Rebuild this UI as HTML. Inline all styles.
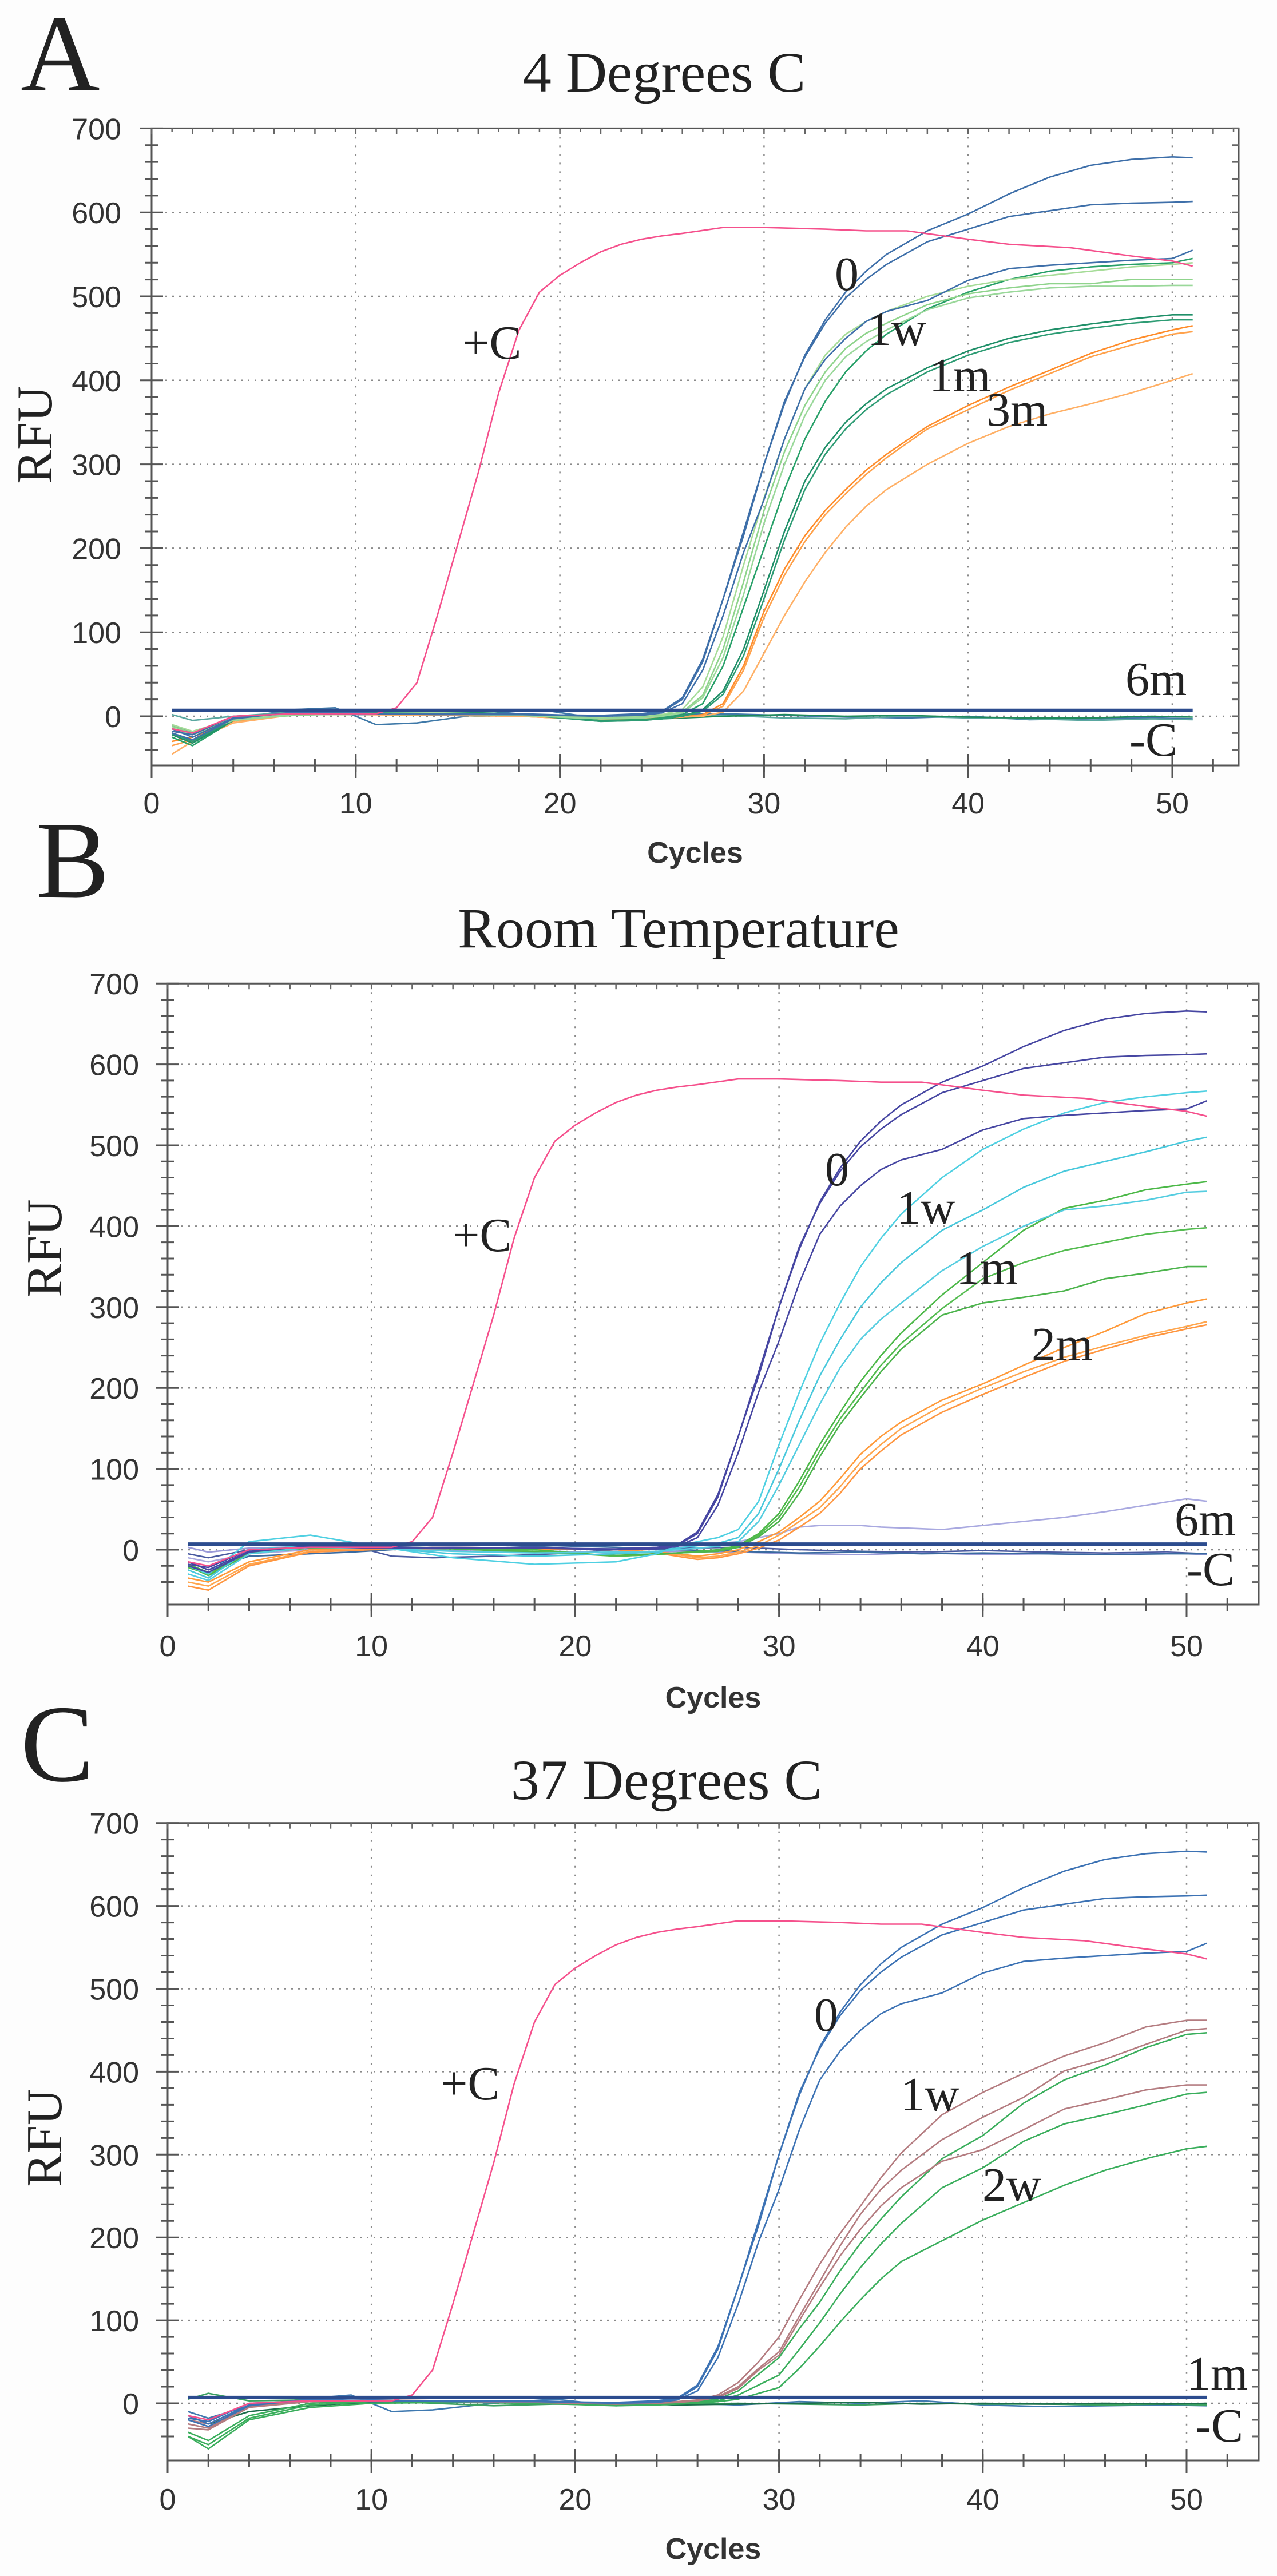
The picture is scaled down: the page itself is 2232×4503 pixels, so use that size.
<!DOCTYPE html>
<html><head><meta charset="utf-8"><title>qPCR stability curves</title>
<style>
html,body{margin:0;padding:0;background:#fdfdfd;}
svg{display:block;}
.serif{font-family:"Liberation Serif","Times New Roman",serif;fill:#222;}
.sans{font-family:"Liberation Sans",Arial,sans-serif;fill:#333;}
</style></head>
<body>
<svg id="fig" xmlns="http://www.w3.org/2000/svg" width="2232" height="4503" viewBox="0 0 2232 4503">
<rect x="0" y="0" width="2232" height="4503" fill="#fdfdfd"/>
</svg>
<script>
// ---------- shared data ----------
const xTicks = [0, 10, 20, 30, 40, 50];
const yTicks = [0, 100, 200, 300, 400, 500, 600, 700];
const cyc = [1,2,4,7,10,14,18,22,24,25,26,27,28,29,30,31,32,33,34,35,36,38,40,42,44,46,48,50,51];
const cycPos = [1,2,4,7,10,11,12,13,14,15,16,17,18,19,20,21,22,23,24,25,26,28,30,33,35,37,40,42,45,48,50,51];
const cycNoise = [1,2,4,7,9,11,13,16,19,22,25,28,31,34,37,40,43,46,49,51];
const posCtrl = [-15,-20,0,3,3,3,10,40,120,205,290,385,460,505,525,540,553,562,568,572,575,582,582,580,578,578,568,562,558,548,542,536];
const zeroA = [-20,-28,-3,5,3,2,3,0,2,5,20,65,140,215,300,372,430,472,505,530,550,578,598,622,642,656,663,666,665];
const zeroB = [-15,-25,-2,4,2,3,2,1,3,6,22,68,140,220,300,375,428,468,498,520,538,565,580,595,602,609,611,612,613];
const zeroC = [-18,-22,0,3,4,2,2,0,1,4,15,55,120,195,258,330,390,425,450,470,482,495,519,533,537,540,543,545,555];
const sixMonthLine = [7, 7];
// ---------- panel A (4 C) ----------
const a1w1 = [-10,-18,-3,2,3,4,2,-2,0,2,8,35,95,180,260,330,390,430,455,470,482,500,512,520,525,530,535,538,540];
const a1w2 = [-12,-20,-4,1,3,3,1,-3,-1,1,5,25,80,160,245,315,370,410,438,456,468,490,503,510,515,515,520,520,520];
const a1w3 = [-14,-22,-5,2,2,3,1,-3,-2,0,4,22,70,145,230,300,358,400,428,446,460,484,498,505,510,512,512,513,513];
const a1m1 = [-25,-35,-5,3,4,4,2,-5,-4,-2,2,15,60,130,200,270,330,375,410,435,455,485,505,520,530,535,538,540,545];
const a1m2 = [-22,-32,-5,4,3,5,3,-6,-5,-3,0,8,30,80,150,220,280,320,350,372,390,415,435,450,460,467,473,478,478];
const a1m3 = [-20,-30,-4,3,2,4,2,-6,-5,-3,0,6,26,72,140,210,270,312,342,365,383,410,430,445,455,462,468,472,472];
const a3m1 = [-30,-25,-5,2,2,2,0,-4,-3,-2,-1,2,15,60,125,175,215,245,270,293,312,345,370,392,412,432,448,460,465];
const a3m2 = [-35,-28,-6,2,2,2,0,-4,-3,-2,-1,1,12,55,118,168,208,240,265,288,308,342,365,388,408,428,442,455,458];
const a3m3 = [-45,-30,-8,2,2,1,0,-4,-3,-2,-1,0,5,30,75,120,160,195,225,250,270,300,325,345,360,372,385,400,408];
const aNeg1 = [-10,-20,-3,8,10,-10,-8,2,8,-3,2,3,1,-1,-2,0,-4,-3,-2,-3];
const aNeg2 = [2,-5,0,5,3,5,3,0,2,-4,0,1,-2,-3,0,-2,-3,-5,-3,-4];
const aNeg3 = [-20,-30,-5,3,4,3,5,4,0,-5,-3,0,2,0,1,-1,-2,-2,0,-1];
// ---------- panel B (room temperature) ----------
const b1w1 = [-20,-30,10,18,5,-10,-18,-15,-5,5,10,15,25,60,130,195,255,305,350,385,415,460,495,520,540,553,560,565,567];
const b1w2 = [-25,-35,0,5,3,-5,-8,-5,-3,2,5,8,15,45,100,160,215,260,300,330,355,395,420,448,468,480,492,505,510];
const b1w3 = [-30,-38,-5,3,2,-2,-4,-3,-2,0,2,4,10,35,80,130,180,225,260,285,305,345,375,400,420,425,432,442,443];
const b1m1 = [-20,-32,-5,3,4,2,0,-8,-6,-4,-2,0,5,20,45,85,130,170,208,240,268,315,355,395,422,432,445,452,455];
const b1m2 = [-22,-30,-4,2,3,2,-2,-8,-6,-4,-3,-1,4,18,40,78,122,162,195,228,255,298,335,355,370,380,390,396,398];
const b1m3 = [-18,-28,-3,2,3,1,-3,-7,-5,-4,-3,-2,3,16,35,70,115,155,188,220,248,290,305,312,320,335,342,350,350];
const b2m1 = [-35,-40,-15,0,2,3,2,0,-3,-5,-8,-5,0,10,22,40,60,88,118,140,158,185,205,228,250,270,292,305,310];
const b2m2 = [-40,-45,-18,-2,1,2,1,0,-4,-6,-10,-8,-3,5,18,35,52,78,108,130,150,178,200,220,238,252,265,276,282];
const b2m3 = [-45,-50,-20,-3,0,2,1,0,-4,-8,-12,-10,-5,2,12,28,45,70,100,122,142,170,192,213,233,248,262,273,278];
const b6m = [-10,-15,-5,0,2,3,2,0,2,4,6,8,10,15,20,28,30,30,30,28,27,25,30,35,40,47,55,63,60];
const bNeg1 = [-5,-10,0,5,5,-8,-10,-8,-5,0,2,3,0,-2,-3,-1,-3,-4,-3,-5];
const bNeg2 = [3,-3,2,4,6,2,0,-3,-2,-4,-2,-3,-5,-6,-4,-6,-5,-6,-4,-6];
const bNeg3 = [-15,-25,-8,-5,-3,0,3,2,5,3,0,-2,-4,-3,-5,-4,-5,-6,-5,-5];
// ---------- panel C (37 C) ----------
const c1w1 = [-20,-25,-3,3,4,3,2,0,1,2,4,10,25,50,80,125,168,205,238,272,302,348,375,398,419,435,454,462,462];
const c1w2 = [-25,-30,-4,2,3,3,1,-1,0,1,3,8,20,42,62,105,147,190,228,258,281,318,345,369,401,415,433,450,452];
const c1w3 = [-30,-32,-5,2,3,2,1,-1,0,1,3,7,18,40,58,100,140,178,210,238,260,292,306,330,355,366,378,384,384];
const c2w1 = [-35,-45,-15,0,3,2,1,-2,-1,0,2,5,15,35,55,90,122,160,193,222,249,295,323,362,390,408,429,445,447];
const c2w2 = [-40,-50,-18,-2,2,2,1,-2,-1,0,1,3,10,22,34,65,97,132,164,192,217,260,284,316,337,348,360,373,375];
const c2w3 = [-40,-55,-20,-5,0,1,0,-3,-2,-1,0,2,5,12,19,42,69,98,125,150,171,196,221,242,263,281,295,307,310];
const cNeg1 = [-10,-18,-3,6,10,-10,-8,0,5,-3,0,-2,2,0,3,-2,-4,-3,-2,-3];
const cNeg2 = [5,12,3,4,3,2,0,-3,-1,-2,-1,0,-1,-2,0,-1,-1,-2,-1,-2];
const cNeg3 = [-15,-25,-10,-3,0,2,3,1,2,0,-2,-1,0,1,-1,0,-1,0,-1,0];

// ---------- layout (not data) ----------
const panels = [
  {id:'a', x0:265, cw:35.68, y0:1252, py:1.468, right:2165, bottom:1338, ylabX:212,
   letter:{t:'A',x:36,y:158}, title:{t:'4 Degrees C',x:1161,y:160}, cycY:1508, rfuY:760, rfuX:90, xlabY:1422,
   series:[
    {n:'neg-ctrl-1',d:aNeg1,c:cycNoise,col:'#3f79a8'},{n:'neg-ctrl-2',d:aNeg2,c:cycNoise,col:'#5aa7a0'},{n:'neg-ctrl-3',d:aNeg3,c:cycNoise,col:'#1f8a5a'},
    {n:'3m-rep-1',d:a3m1,c:cyc,col:'#ff8c2a'},{n:'3m-rep-2',d:a3m2,c:cyc,col:'#ffa24c'},{n:'3m-rep-3',d:a3m3,c:cyc,col:'#ffb066'},
    {n:'1m-rep-1',d:a1m1,c:cyc,col:'#27a068'},{n:'1m-rep-2',d:a1m2,c:cyc,col:'#1f8f68'},{n:'1m-rep-3',d:a1m3,c:cyc,col:'#2e9c74'},
    {n:'1w-rep-1',d:a1w1,c:cyc,col:'#a6dc98'},{n:'1w-rep-2',d:a1w2,c:cyc,col:'#8fd48c'},{n:'1w-rep-3',d:a1w3,c:cyc,col:'#9ad89a'},
    {n:'0-rep-1',d:zeroA,c:cyc,col:'#3e6fa9'},{n:'0-rep-2',d:zeroB,c:cyc,col:'#3e6fa9'},{n:'0-rep-3',d:zeroC,c:cyc,col:'#3e6fa9'},
    {n:'pos-ctrl',d:posCtrl,c:cycPos,col:'#f5508c'}],
   labels:[['0',1459,507],['1w',1516,603],['1m',1624,684],['3m',1724,744],['+C',808,627],['6m',1967,1215],['-C',1974,1321]]},
  {id:'b', x0:293, cw:35.62, y0:2709, py:1.414, right:2200, bottom:2805, ylabX:243,
   letter:{t:'B',x:63,y:1568}, title:{t:'Room Temperature',x:1186,y:1656}, cycY:2985, rfuY:2182, rfuX:107, xlabY:2895,
   series:[
    {n:'neg-ctrl-1',d:bNeg1,c:cycNoise,col:'#4a5aa0'},{n:'neg-ctrl-2',d:bNeg2,c:cycNoise,col:'#9a9ad8'},{n:'neg-ctrl-3',d:bNeg3,c:cycNoise,col:'#3a6aa0'},
    {n:'6m-rep',d:b6m,c:cyc,col:'#a9a9e0'},
    {n:'2m-rep-1',d:b2m1,c:cyc,col:'#ff9a3a'},{n:'2m-rep-2',d:b2m2,c:cyc,col:'#ffa64e'},{n:'2m-rep-3',d:b2m3,c:cyc,col:'#ff9640'},
    {n:'1m-rep-1',d:b1m1,c:cyc,col:'#4cb848'},{n:'1m-rep-2',d:b1m2,c:cyc,col:'#54bc50'},{n:'1m-rep-3',d:b1m3,c:cyc,col:'#4cb44c'},
    {n:'1w-rep-1',d:b1w1,c:cyc,col:'#4fd0e2'},{n:'1w-rep-2',d:b1w2,c:cyc,col:'#48c8dc'},{n:'1w-rep-3',d:b1w3,c:cyc,col:'#55cde0'},
    {n:'0-rep-1',d:zeroA,c:cyc,col:'#4646a2'},{n:'0-rep-2',d:zeroB,c:cyc,col:'#4646a2'},{n:'0-rep-3',d:zeroC,c:cyc,col:'#4646a2'},
    {n:'pos-ctrl',d:posCtrl,c:cycPos,col:'#f5508c'}],
   labels:[['0',1442,2072],['1w',1567,2139],['1m',1671,2244],['2m',1803,2378],['+C',791,2187],['6m',2053,2684],['-C',2074,2771]]},
  {id:'c', x0:293, cw:35.62, y0:4201, py:1.449, right:2200, bottom:4301, ylabX:243,
   letter:{t:'C',x:36,y:3113}, title:{t:'37 Degrees C',x:1165,y:3145}, cycY:4473, rfuY:3737, rfuX:107, xlabY:4387,
   series:[
    {n:'neg-ctrl-1',d:cNeg1,c:cycNoise,col:'#3f79b0'},{n:'neg-ctrl-2',d:cNeg2,c:cycNoise,col:'#3aa060'},{n:'neg-ctrl-3',d:cNeg3,c:cycNoise,col:'#1c6e4a'},
    {n:'2w-rep-1',d:c2w1,c:cyc,col:'#3aae5c'},{n:'2w-rep-2',d:c2w2,c:cyc,col:'#3aae5c'},{n:'2w-rep-3',d:c2w3,c:cyc,col:'#3aae5c'},
    {n:'1w-rep-1',d:c1w1,c:cyc,col:'#b47c80'},{n:'1w-rep-2',d:c1w2,c:cyc,col:'#b47c80'},{n:'1w-rep-3',d:c1w3,c:cyc,col:'#b47c80'},
    {n:'0-rep-1',d:zeroA,c:cyc,col:'#3c72b4'},{n:'0-rep-2',d:zeroB,c:cyc,col:'#3c72b4'},{n:'0-rep-3',d:zeroC,c:cyc,col:'#3c72b4'},
    {n:'pos-ctrl',d:posCtrl,c:cycPos,col:'#f5508c'}],
   labels:[['0',1423,3550],['1w',1574,3689],['2w',1717,3847],['+C',770,3670],['1m',2074,4177],['-C',2089,4268]]}
];

const NS = 'http://www.w3.org/2000/svg';
const svg = document.getElementById('fig');
function mk(tag, attrs, parent){
  const e = document.createElementNS(NS, tag);
  for (const k in attrs) e.setAttribute(k, attrs[k]);
  parent.appendChild(e);
  return e;
}

panels.forEach(p => {
  const X = c => p.x0 + c * p.cw;
  const Y = v => p.y0 - v * p.py;
  const top = Y(700);
  const g = mk('g', {}, svg);
  
  

  // plot background
  const bg = mk('rect', {x:p.x0, y:top, width:p.right-p.x0, height:p.bottom-top, fill:'#ffffff'}, g);
  
  

  // grid
  yTicks.forEach(v => {
    if (v === 700) return;
    const l = mk('line', {x1:p.x0, x2:p.right, y1:Y(v), y2:Y(v), stroke:'#8a8a8a', 'stroke-width':2.5, 'stroke-dasharray':'3 9'}, g);
    
    
  });
  xTicks.forEach(c => {
    if (c === 0) return;
    const l = mk('line', {x1:X(c), x2:X(c), y1:top, y2:p.bottom, stroke:'#8a8a8a', 'stroke-width':2.5, 'stroke-dasharray':'3 12'}, g);
    
    
  });

  // series
  p.series.forEach(s => {
    let pts = '';
    s.d.forEach((v, i) => { pts += X(s.c[i]).toFixed(1) + ',' + Y(v).toFixed(1) + ' '; });
    const pl = mk('polyline', {points:pts, fill:'none', stroke:s.col, 'stroke-width':2.6, 'stroke-linejoin':'round'}, g);
    
    
  });
  // threshold (6m / 1m flat line)
  const th = mk('line', {x1:X(1), x2:X(51), y1:Y(sixMonthLine[0]), y2:Y(sixMonthLine[1]), stroke:'#2c4c8e', 'stroke-width':6}, g);
  
  

  // frame
  const fr = mk('path', {d:`M${p.x0},${top} H${p.right} V${p.bottom} H${p.x0} Z`, fill:'none', stroke:'#555', 'stroke-width':3}, g);
  
  

  // y ticks (left & right)
  for (let v = -40; v <= 700; v += 20) {
    const major = v % 100 === 0;
    const tl = mk('line', {x1:p.x0 - (major ? 20 : 11), x2:p.x0 + (major ? 20 : 11), y1:Y(v), y2:Y(v), stroke:'#555', 'stroke-width':3}, g);
    
    
    const tr = mk('line', {x1:p.right - 12, x2:p.right, y1:Y(v), y2:Y(v), stroke:'#666', 'stroke-width':3}, g);
    
    
  }
  // x ticks (bottom & top)
  for (let c = 0; c <= 52; c += 2) {
    const xx = X(c); if (xx > p.right) break;
    const tb = mk('line', {x1:xx, x2:xx, y1:p.bottom - 11, y2:p.bottom + 11, stroke:'#555', 'stroke-width':3}, g);
    
    
  }
  xTicks.forEach(c => {
    const tb = mk('line', {x1:X(c), x2:X(c), y1:p.bottom - 20, y2:p.bottom + 22, stroke:'#555', 'stroke-width':3}, g);
    
    
  });
  for (let c = 0; c <= 53; c += 1) {
    const xx = X(c); if (xx > p.right) break;
    const tt = mk('line', {x1:xx, x2:xx, y1:top, y2:top + (c % 2 === 0 ? 10 : 6), stroke:'#666', 'stroke-width':2.5}, g);
    
    
  }

  // tick labels
  yTicks.forEach(v => {
    const t = mk('text', {x:p.ylabX, y:Y(v) + 19, 'text-anchor':'end', 'font-size':52, class:'sans'}, g);
    t.textContent = String(v);
    
    
  });
  xTicks.forEach(c => {
    const t = mk('text', {x:X(c), y:p.xlabY, 'text-anchor':'middle', 'font-size':52, class:'sans'}, g);
    t.textContent = String(c);
    
    
  });

  // axis titles
  const cy = mk('text', {x:(p.x0 + p.right) / 2, y:p.cycY, 'text-anchor':'middle', 'font-size':52, 'font-weight':'bold', class:'sans'}, g);
  cy.textContent = 'Cycles';
  
  
  const rf = mk('text', {x:0, y:0, 'text-anchor':'middle', 'font-size':88, class:'serif', transform:`translate(${p.rfuX},${p.rfuY}) rotate(-90)`}, g);
  rf.textContent = 'RFU';
  
  

  // title + letter
  const ti = mk('text', {x:p.title.x, y:p.title.y, 'text-anchor':'middle', 'font-size':100, class:'serif'}, g);
  ti.textContent = p.title.t;
  
  
  const le = mk('text', {x:p.letter.x, y:p.letter.y, 'font-size':192, class:'serif'}, g);
  le.textContent = p.letter.t;
  
  

  // curve annotations
  p.labels.forEach(l => {
    const t = mk('text', {x:l[1], y:l[2], 'font-size':84, class:'serif'}, g);
    t.textContent = l[0];
    
    
  });
});
</script>
</body></html>
